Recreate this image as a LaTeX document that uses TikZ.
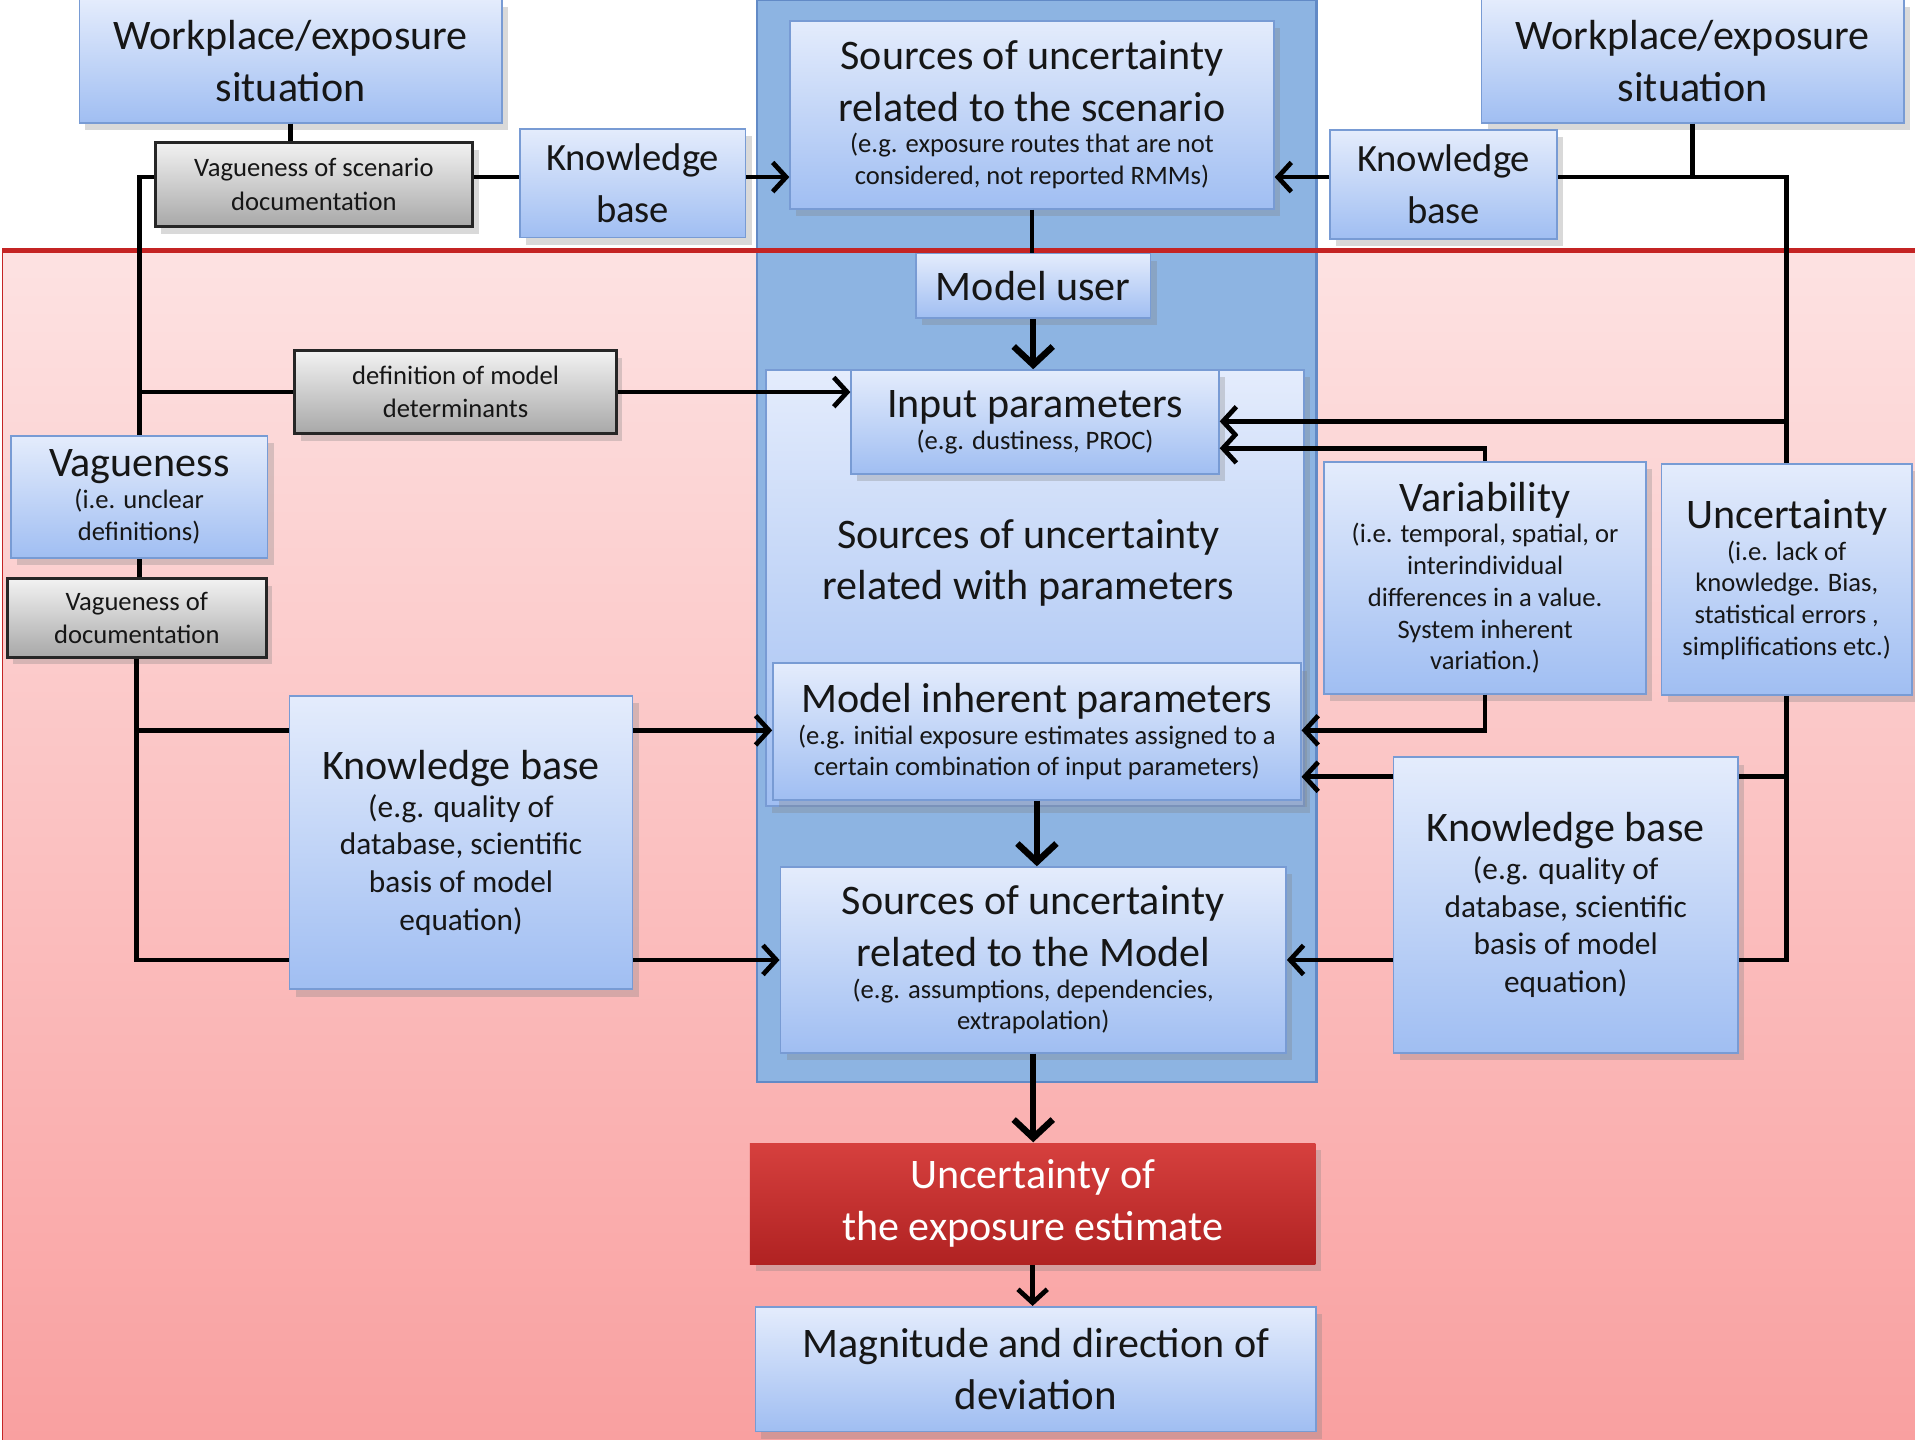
\documentclass[tikz,border=0pt]{standalone}
\usepackage{fontspec}
\setmainfont{Carlito}
\usetikzlibrary{arrows.meta, shadows}
\definecolor{boxtop}{RGB}{228,236,252}
\definecolor{boxbot}{RGB}{160,190,242}
\definecolor{boxline}{RGB}{120,155,212}
\definecolor{colfill}{RGB}{141,180,226}
\definecolor{colline}{RGB}{98,138,198}
\definecolor{pinktop}{RGB}{253,226,226}
\definecolor{pinkbot}{RGB}{249,160,160}
\definecolor{redline}{RGB}{196,36,36}
\definecolor{graytop}{RGB}{242,242,242}
\definecolor{graybot}{RGB}{168,168,168}
\definecolor{redtop}{RGB}{214,64,62}
\definecolor{redbot}{RGB}{176,34,34}
\definecolor{inktext}{RGB}{22,22,22}

\newcommand{\fbig}{\fontsize{9.8}{12}\selectfont}
\newcommand{\fkb}{\fontsize{9}{10.6}\selectfont}
\newcommand{\fmid}{\fontsize{7.3}{8.8}\selectfont}
\newcommand{\fsmall}{\fontsize{6.2}{7.4}\selectfont}
\newcommand{\fgray}{\fontsize{6.2}{7.7}\selectfont}

\tikzset{
  softshadow/.style={drop shadow={shadow xshift=0.5mm, shadow yshift=-0.6mm, opacity=0.3}},
  bluebox/.style={draw=boxline, top color=boxtop, bottom color=boxbot, text=inktext, align=flush center, inner sep=1pt, softshadow},
  graybox/.style={draw=black!85, line width=0.7pt, top color=graytop, bottom color=graybot, text=inktext, align=flush center, inner sep=1pt, font=\fgray, softshadow},
  redbox/.style={top color=redtop, bottom color=redbot, text=white, align=center, inner sep=1pt, font=\fbig, softshadow},
  link/.style={line width=1.1pt},
  arr/.style={link, -{Straight Barb[length=1.1mm, width=2.4mm]}},
  bigarr/.style={line width=1.5pt, -{Straight Barb[length=1.5mm, width=3.2mm]}}
}

\begin{document}
\begin{tikzpicture}[x=0.1mm, y=-0.1mm]
    \useasboundingbox (0,0) rectangle (1568,1179);

    % background: model part and central column
    \fill[top color=pinktop, bottom color=pinkbot] (2,205) rectangle (1568,1179);
    \draw[redline, line width=0.4pt] (2,205) -- (2,1179);
    \draw[fill=colfill, draw=colline, line width=0.6pt] (620,0) rectangle (1078,886);
    \draw[redline, line width=1pt] (2,205) -- (1568,205);

    % scenario row
    \node[bluebox, minimum width=34.6mm, minimum height=10.1mm, text width=32mm] (wp1) at (238,50) {\fbig Workplace/exposure\\situation};
    \node[graybox, minimum width=26mm, minimum height=6.9mm, text width=24mm] (vsd) at (257,151) {Vagueness of scenario\\documentation};
    \node[bluebox, minimum width=18.5mm, minimum height=8.9mm, text width=17mm] (kb1) at (518,150) {\fkb Knowledge\\base};
    \node[bluebox, minimum width=39.6mm, minimum height=15.4mm, text width=38mm] (src) at (845,94)
        {{\fbig Sources of uncertainty\\related to the scenario\par}{\fsmall (e.g. exposure routes that are not\\considered, not reported RMMs)\par}};
    \node[bluebox, minimum width=34.6mm, minimum height=10.1mm, text width=32mm] (wp2) at (1386,50) {\fbig Workplace/exposure\\situation};
    \node[bluebox, minimum width=18.6mm, minimum height=8.9mm, text width=17mm] (kb2) at (1182,151) {\fkb Knowledge\\base};

    % parameters
    \node[bluebox, minimum width=19.2mm, minimum height=5.3mm] (mu) at (846,234) {\fbig Model user};
    \node[graybox, minimum width=26.3mm, minimum height=6.8mm, text width=24mm] (dmd) at (373,321) {definition of model\\determinants};
    \node[bluebox, minimum width=44.1mm, minimum height=35.7mm] (par) at (847.5,481.5) {};
    \node[text=inktext, align=center, font=\fbig] (partxt) at (842,461) {Sources of uncertainty\\related with parameters};
    \node[bluebox, minimum width=30.1mm, minimum height=8.5mm, text width=28.5mm] (ip) at (847.5,345.5)
        {{\fbig Input parameters\par}{\fsmall (e.g. dustiness, PROC)\par}};
    \node[bluebox, minimum width=21mm, minimum height=10mm, text width=19.5mm] (vag) at (114,407)
        {{\fbig Vagueness\par}{\fsmall (i.e. unclear\\definitions)\par}};
    \node[graybox, minimum width=21.2mm, minimum height=6.4mm, text width=19.5mm] (vod) at (112,506) {Vagueness of\\documentation};
    \node[bluebox, minimum width=26.4mm, minimum height=19mm, text width=25.5mm] (var) at (1216,473)
        {{\fbig Variability\par}{\fsmall (i.e. temporal, spatial, or\\interindividual\\differences in a value.\\System inherent\\variation.)\par}};
    \node[bluebox, minimum width=20.4mm, minimum height=18.9mm, text width=19.8mm] (unc) at (1463,474.5)
        {{\fbig Uncertainty\par}{\fsmall (i.e. lack of\\knowledge. Bias,\\statistical errors~,\\simplifications etc.)\par}};
    \node[bluebox, minimum width=43.2mm, minimum height=11.2mm, text width=42.5mm] (mip) at (849,599)
        {{\fbig Model inherent parameters\par}{\fsmall (e.g. initial exposure estimates assigned to a\\certain combination of input parameters)\par}};

    % model
    \node[bluebox, minimum width=28.1mm, minimum height=24mm, text width=26.5mm] (kb3) at (377.5,690)
        {{\fbig Knowledge base\par}{\fmid (e.g. quality of\\database, scientific\\basis of model\\equation)\par}};
    \node[bluebox, minimum width=28.2mm, minimum height=24.2mm, text width=26.5mm] (kb4) at (1282,741)
        {{\fbig Knowledge base\par}{\fmid (e.g. quality of\\database, scientific\\basis of model\\equation)\par}};
    \node[bluebox, minimum width=41.4mm, minimum height=15.2mm, text width=40mm] (srm) at (846,786)
        {{\fbig Sources of uncertainty\\related to the Model\par}{\fsmall (e.g. assumptions, dependencies,\\extrapolation)\par}};
    \node[redbox, minimum width=46.3mm, minimum height=9.9mm] (ue) at (845.5,985.5) {Uncertainty of\\the exposure estimate};
    \node[bluebox, minimum width=45.9mm, minimum height=10.2mm] (mag) at (848,1121) {\fbig Magnitude and direction of\\deviation};

    % rows of the connectors
    \coordinate (rowTop) at (0,145);
    \coordinate (rowIpA) at (0,345);
    \coordinate (rowIpB) at (0,367);
    \coordinate (rowMipA) at (0,598);
    \coordinate (rowMipB) at (0,636);
    \coordinate (rowSrm) at (0,786);

    % left side
    \draw[link] (wp1.south) -- (wp1.south |- vsd.north);
    \draw[link] (vsd.east |- rowTop) -- (kb1.west |- rowTop);
    \draw[arr] (kb1.east |- rowTop) -- (src.west |- rowTop);
    \draw[link] (vsd.west |- rowTop) -| (vag.north);
    \draw[link] (vag.north |- dmd.west) -- (dmd.west);
    \draw[arr] (dmd.east) -- (ip.west |- dmd.east);
    \draw[link] (vag.south) -- (vag.south |- vod.north);
    \draw[link] (vod.south) |- (kb3.west |- rowSrm);
    \draw[link] (vod.south |- rowMipA) -- (kb3.west |- rowMipA);
    \draw[arr] (kb3.east |- rowMipA) -- (mip.west |- rowMipA);
    \draw[arr] (kb3.east |- rowSrm) -- (srm.west |- rowSrm);

    % right side
    \draw[link] (wp2.south) -- (wp2.south |- rowTop);
    \draw[arr] (kb2.west |- rowTop) -- (src.east |- rowTop);
    \draw[link] (kb2.east |- rowTop) -| (unc.north);
    \draw[arr] (unc.north |- rowIpA) -- (ip.east |- rowIpA);
    \draw[arr] (var.north) |- (ip.east |- rowIpB);
    \draw[arr] (var.south) |- (mip.east |- rowMipA);
    \draw[link] (unc.south) |- (kb4.east |- rowSrm);
    \draw[link] (unc.south |- rowMipB) -- (kb4.east |- rowMipB);
    \draw[arr] (kb4.west |- rowMipB) -- (mip.east |- rowMipB);
    \draw[arr] (kb4.west |- rowSrm) -- (srm.east |- rowSrm);

    % main chain
    \draw[link] (src.south) -- (src.south |- mu.north);
    \draw[bigarr] (mu.south) -- (mu.south |- ip.north);
    \draw[bigarr] (mip.south) -- (mip.south |- srm.north);
    \draw[bigarr] (srm.south) -- (srm.south |- ue.north);
    \draw[arr] (ue.south) -- (ue.south |- mag.north);
\end{tikzpicture}
\end{document}
